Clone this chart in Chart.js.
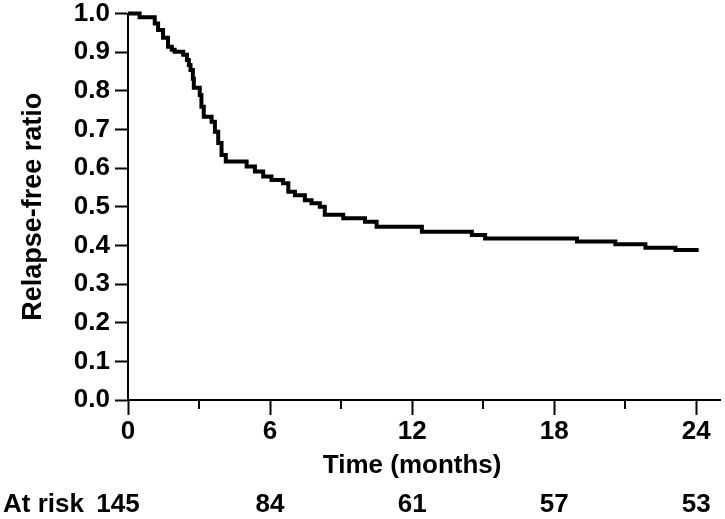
<!DOCTYPE html>
<html>
<head>
<meta charset="utf-8">
<script src="https://cdn.jsdelivr.net/npm/chart.js@4/dist/chart.umd.min.js"></script>
<style>
  html, body { margin: 0; padding: 0; background: #fff; }
  #km { display: block; }
</style>
</head>
<body>
<canvas id="km" width="725" height="519"></canvas>
<script>
// Kaplan-Meier steps: time of each drop (months) and the new relapse-free ratio
var months = [0, 0.49, 1.13, 1.27, 1.48, 1.69, 1.85, 1.97, 2.33, 2.49, 2.57, 2.64, 2.74, 2.78,
    3.03, 3.10, 3.20, 3.53, 3.67, 3.81, 3.95, 4.13, 5.01, 5.36, 5.71, 6.06, 6.55, 6.77,
    7.05, 7.47, 7.75, 8.10, 8.31, 9.09, 10.01, 10.50, 12.41, 14.52, 15.08, 18.96, 20.58,
    21.85, 23.12, 24.1];
var relapseFree = [1.0, 0.990, 0.974, 0.957, 0.937, 0.914, 0.906, 0.901, 0.893, 0.880,
    0.867, 0.854, 0.831, 0.808, 0.789, 0.759, 0.733, 0.720, 0.694, 0.665,
    0.634, 0.617, 0.604, 0.591, 0.578, 0.569, 0.561, 0.539, 0.530, 0.517,
    0.509, 0.500, 0.479, 0.470, 0.461, 0.448, 0.435, 0.427, 0.418, 0.410,
    0.403, 0.394, 0.388, 0.388];

var xTicks = [0, 6, 12, 18, 24];
var minorTicks = [3, 9, 15, 21];
var riskTimes = [0, 6, 12, 18, 24];
var atRisk = [145, 84, 61, 57, 53];

var FONT = "'Liberation Sans', Arial, Helvetica, sans-serif";

// minor x ticks, x title and the at-risk row
var extras = {
    id: 'extras',
    afterDraw: function(chart) {
        var ctx = chart.ctx;
        var x = chart.scales.x;
        var bottom = chart.chartArea.bottom;
        ctx.save();
        ctx.strokeStyle = '#000';
        ctx.lineWidth = 2;
        minorTicks.forEach(function(t) {
            var px = Math.round(x.getPixelForValue(t));
            ctx.beginPath();
            ctx.moveTo(px, bottom);
            ctx.lineTo(px, bottom + 9);
            ctx.stroke();
        });
        ctx.fillStyle = '#000';
        ctx.textBaseline = 'middle';
        ctx.font = 'bold 26px ' + FONT;
        ctx.textAlign = 'center';
        ctx.fillText('Time (months)', x.getPixelForValue(12), 466);
        ctx.textAlign = 'left';
        ctx.fillText('At risk', 3, 505);
        ctx.textAlign = 'center';
        for (var i = 0; i < atRisk.length; i++) {
            var px = x.getPixelForValue(riskTimes[i]);
            if (i == 0) px -= 10;
            ctx.fillText(String(atRisk[i]), px, 505);
        }
        ctx.restore();
    }
};

var points = [];
for (var i = 0; i < months.length; i++) {
    points.push({x: months[i], y: relapseFree[i]});
}

new Chart(document.getElementById('km'), {
    type: 'line',
    data: {
        datasets: [{
            data: points,
            stepped: true,
            borderColor: '#000',
            borderWidth: 4,
            borderCapStyle: 'butt',
            borderJoinStyle: 'miter',
            pointRadius: 0,
            fill: false,
            clip: false
        }]
    },
    options: {
        responsive: false,
        animation: false,
        layout: { padding: { top: 0, right: 5, left: 0, bottom: 0 } },
        plugins: { legend: { display: false }, tooltip: { enabled: false } },
        scales: {
            x: {
                type: 'linear',
                min: 0,
                max: 25,
                afterBuildTicks: function(scale) {
                    scale.ticks = xTicks.map(function(v) { return {value: v}; });
                },
                afterFit: function(scale) { scale.height = 119; },
                border: { display: true, color: '#000', width: 2 },
                grid: { drawOnChartArea: false, drawTicks: true, tickLength: 15, tickWidth: 2, tickColor: '#000' },
                ticks: { color: '#000', padding: 1, maxRotation: 0, font: { family: FONT, size: 26, weight: 'bold' } }
            },
            y: {
                min: 0,
                max: 1,
                afterFit: function(scale) {
                    scale.width = 128;
                    scale.paddingTop = 13.5;
                    scale.paddingBottom = 0;
                },
                border: { display: true, color: '#000', width: 2 },
                grid: { drawOnChartArea: false, drawTicks: true, tickLength: 13, tickWidth: 2, tickColor: '#000' },
                ticks: {
                    stepSize: 0.1,
                    color: '#000',
                    padding: 5,
                    font: { family: FONT, size: 26, weight: 'bold' },
                    callback: function(v) { return v.toFixed(1); }
                },
                title: {
                    display: true,
                    text: 'Relapse-free ratio',
                    color: '#000',
                    padding: { top: 17, bottom: 0 },
                    font: { family: FONT, size: 27, weight: 'bold' }
                }
            }
        }
    },
    plugins: [extras]
});
</script>
</body>
</html>
